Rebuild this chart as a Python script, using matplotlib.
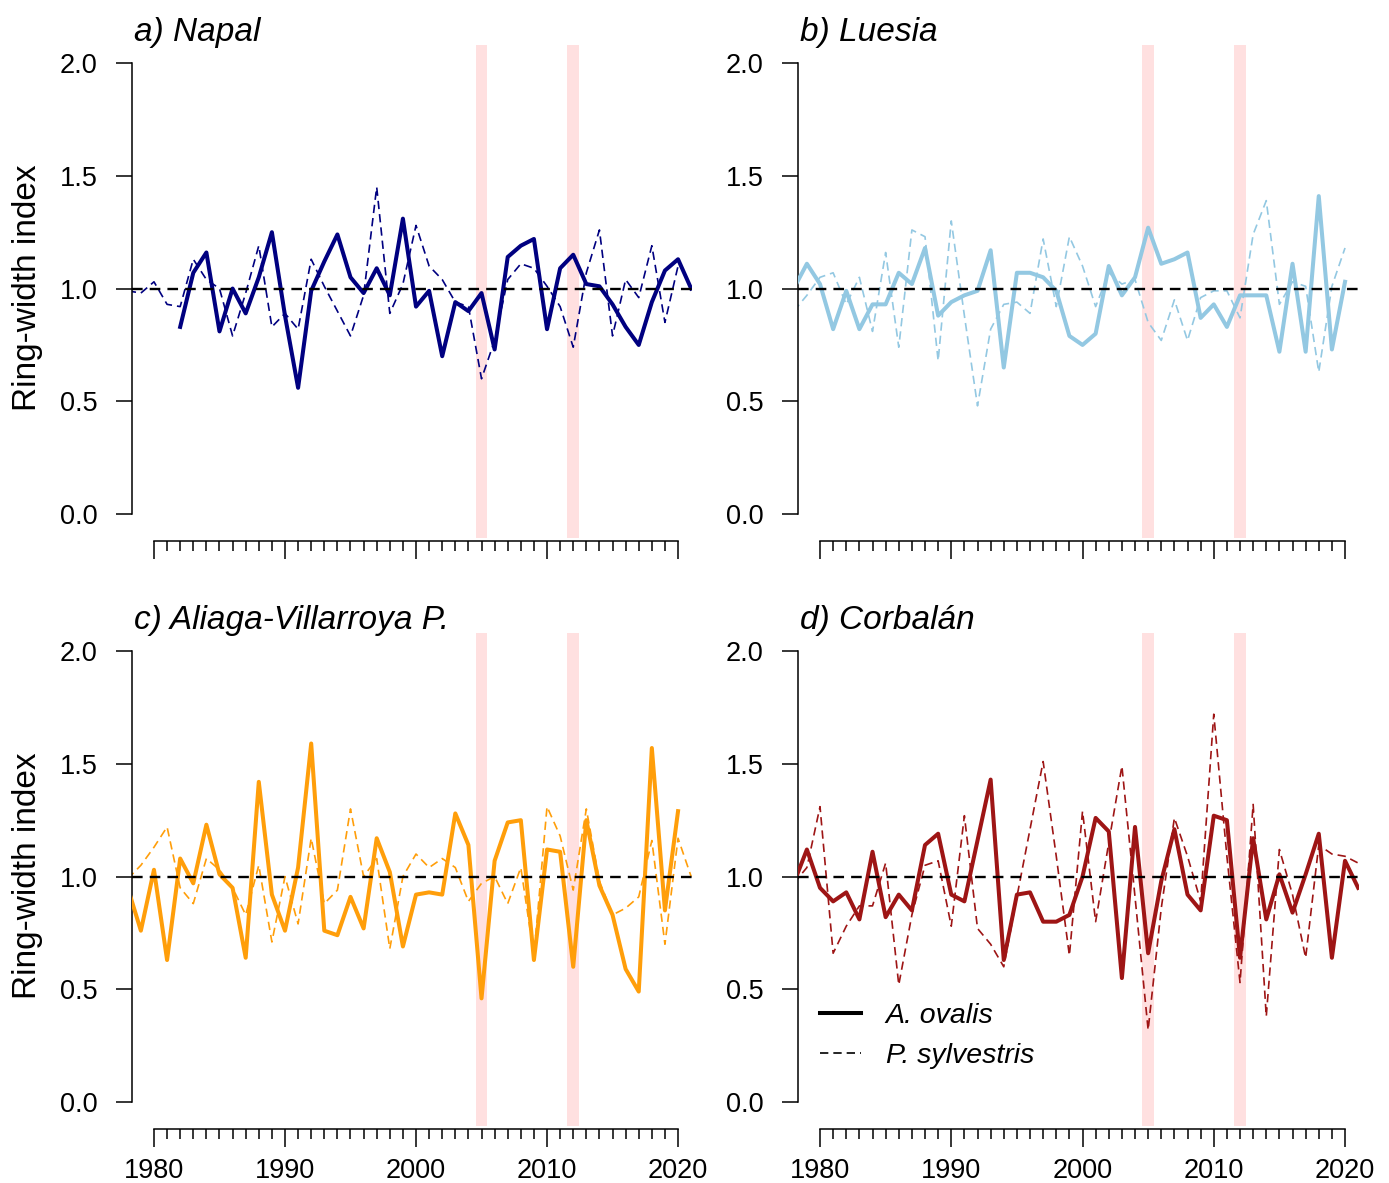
import numpy as np
import matplotlib
matplotlib.use("Agg")
import matplotlib.pyplot as plt
from matplotlib.lines import Line2D

plt.rcParams['font.family'] = ['Liberation Sans', 'DejaVu Sans']

# ring-width indices
napal_years_ao = np.arange(1982, 2022)
napal_ao = [0.83, 1.07, 1.16, 0.81, 1.00, 0.89, 1.05, 1.25, 0.88, 0.56,
            0.99, 1.12, 1.24, 1.05, 0.98, 1.09, 0.97, 1.31, 0.92, 0.99,
            0.70, 0.94, 0.90, 0.98, 0.73, 1.14, 1.19, 1.22, 0.82, 1.09,
            1.15, 1.02, 1.01, 0.93, 0.83, 0.75, 0.94, 1.08, 1.13, 1.00]
napal_years_ps = np.arange(1978, 2021)
napal_ps = [0.99, 0.98, 1.03, 0.93, 0.92, 1.13, 1.04, 1.00, 0.79, 0.98,
            1.19, 0.83, 0.89, 0.82, 1.13, 1.01, 0.90, 0.79, 0.97, 1.45,
            0.89, 1.02, 1.28, 1.10, 1.04, 0.94, 0.92, 0.60, 0.77, 1.04,
            1.11, 1.09, 1.01, 0.92, 0.74, 1.07, 1.26, 0.79, 1.04, 0.96,
            1.19, 0.85, 1.10]

luesia_years_ao = np.arange(1978, 2021)
luesia_ao = [1.00, 1.11, 1.02, 0.82, 0.99, 0.82, 0.93, 0.93, 1.07, 1.02,
             1.18, 0.88, 0.94, 0.97, 0.99, 1.17, 0.65, 1.07, 1.07, 1.05,
             0.99, 0.79, 0.75, 0.80, 1.10, 0.97, 1.05, 1.27, 1.11, 1.13,
             1.16, 0.87, 0.93, 0.83, 0.97, 0.97, 0.97, 0.72, 1.11, 0.72,
             1.41, 0.73, 1.03]
luesia_years_ps = np.arange(1978, 2021)
luesia_ps = [0.90, 0.97, 1.05, 1.07, 0.93, 1.05, 0.81, 1.16, 0.74, 1.26,
             1.23, 0.68, 1.30, 0.88, 0.48, 0.82, 0.93, 0.94, 0.89, 1.22,
             0.92, 1.23, 1.10, 0.92, 1.07, 1.02, 1.04, 0.85, 0.77, 0.95,
             0.77, 0.96, 0.99, 0.99, 0.87, 1.24, 1.39, 0.93, 1.03, 1.01,
             0.63, 1.01, 1.18]

aliaga_years_ao = np.arange(1978, 2021)
aliaga_ao = [0.95, 0.76, 1.03, 0.63, 1.08, 0.97, 1.23, 1.01, 0.95, 0.64,
             1.42, 0.92, 0.76, 1.04, 1.59, 0.76, 0.74, 0.91, 0.77, 1.17,
             1.02, 0.69, 0.92, 0.93, 0.92, 1.28, 1.14, 0.46, 1.07, 1.24,
             1.25, 0.63, 1.12, 1.11, 0.60, 1.25, 0.96, 0.83, 0.59, 0.49,
             1.57, 0.85, 1.29]
aliaga_years_ps = np.arange(1978, 2022)
aliaga_ps = [0.99, 1.05, 1.13, 1.22, 0.95, 0.88, 1.08, 1.03, 0.95, 0.83,
             1.05, 0.71, 1.00, 0.79, 1.17, 0.88, 0.94, 1.30, 1.00, 1.08,
             0.68, 1.00, 1.10, 1.04, 1.08, 1.04, 0.89, 0.97, 1.00, 0.88,
             1.04, 0.65, 1.31, 1.18, 0.94, 1.30, 0.98, 0.83, 0.86, 0.91,
             1.16, 0.70, 1.17, 1.00]

corbalan_years_ao = np.arange(1978, 2022)
corbalan_ao = [0.97, 1.12, 0.95, 0.89, 0.93, 0.81, 1.11, 0.82, 0.92, 0.85,
               1.14, 1.19, 0.92, 0.89, 1.16, 1.43, 0.63, 0.92, 0.93, 0.80,
               0.80, 0.83, 1.00, 1.26, 1.20, 0.55, 1.22, 0.66, 0.98, 1.21,
               0.92, 0.85, 1.27, 1.25, 0.64, 1.17, 0.81, 1.01, 0.84, 1.01,
               1.19, 0.64, 1.07, 0.95]
corbalan_years_ps = np.arange(1978, 2022)
corbalan_ps = [0.97, 1.04, 1.31, 0.66, 0.78, 0.87, 0.87, 1.06, 0.52, 0.83,
               1.05, 1.07, 0.78, 1.27, 0.77, 0.70, 0.60, 0.91, 1.21, 1.51,
               1.09, 0.65, 1.29, 0.80, 1.15, 1.49, 0.91, 0.32, 0.86, 1.26,
               1.09, 0.89, 1.72, 1.09, 0.53, 1.32, 0.38, 1.12, 0.92, 0.64,
               1.14, 1.10, 1.09, 1.06]

drought_years = [2005, 2012]
titles = ['a) Napal', 'b) Luesia', 'c) Aliaga-Villarroya P.', 'd) Corbalán']
colors = ['#000080', '#93C8E2', '#FF9E0A', '#9E1515']

W, H = 1389, 1183
fig = plt.figure(figsize=(W / 100, H / 100), dpi=100)


def panel(px_left, px_right, px_top, px_bottom, yrs_ao, ao, yrs_ps, ps, color, title, bottom_labels, ylabel):
    # axes placed in pixel units of the 1389x1183 figure
    ax = fig.add_axes([px_left / W, 1 - px_bottom / H, (px_right - px_left) / W, (px_bottom - px_top) / H])
    for yr in drought_years:
        ax.axvspan(yr - 0.45, yr + 0.45, color='#FFE0E0', lw=0, zorder=0)
    ax.plot(yrs_ps, ps, color=color, lw=1.2, ls=(0, (5, 3)), zorder=2)
    ax.plot(yrs_ao, ao, color=color, lw=2.9, zorder=3, solid_joinstyle='round')
    ax.axhline(1.0, color='black', lw=1.7, ls=(0, (4.5, 3)), zorder=4)
    ax.set_xlim(1978.3, 2021.05)
    ax.set_ylim(-0.106, 2.08)
    for s in ['top', 'right']:
        ax.spines[s].set_visible(False)
    ax.spines['left'].set_bounds(0, 2)
    ax.spines['bottom'].set_bounds(1980, 2020)
    ax.spines['bottom'].set_position(('outward', 2))
    for s in ['left', 'bottom']:
        ax.spines[s].set_linewidth(1.1)
    ax.set_yticks([0, 0.5, 1.0, 1.5, 2.0])
    ax.set_yticklabels(['0.0', '0.5', '1.0', '1.5', '2.0'])
    ax.set_xticks([1980, 1990, 2000, 2010, 2020])
    ax.set_xticks(np.arange(1980, 2021), minor=True)
    ax.tick_params(axis='y', length=11.5, width=1.1, pad=13, labelsize=19.5)
    ax.tick_params(axis='x', which='major', length=13, width=1.1, pad=8, labelsize=19.5,
                   labelbottom=bottom_labels)
    ax.tick_params(axis='x', which='minor', length=7.5, width=1.1)
    fig.text((px_left + 2) / W, 1 - (px_top - 4) / H, title, fontsize=24, style='italic',
             ha='left', va='baseline')
    if ylabel:
        fig.text(28 / W, 1 - (px_top + 243) / H, 'Ring-width index', fontsize=24,
                 rotation=90, ha='center', va='center')
    return ax


left_a, right_a = 131.7, 691.8
left_b, right_b = 797.7, 1358.8
top_1, bot_1 = 45, 538
top_2, bot_2 = 633, 1126

panel(left_a, right_a, top_1, bot_1, napal_years_ao, napal_ao, napal_years_ps, napal_ps,
      colors[0], titles[0], False, True)
panel(left_b, right_b, top_1, bot_1, luesia_years_ao, luesia_ao, luesia_years_ps, luesia_ps,
      colors[1], titles[1], False, False)
panel(left_a, right_a, top_2, bot_2, aliaga_years_ao, aliaga_ao, aliaga_years_ps, aliaga_ps,
      colors[2], titles[2], True, True)
axd = panel(left_b, right_b, top_2, bot_2, corbalan_years_ao, corbalan_ao, corbalan_years_ps, corbalan_ps,
            colors[3], titles[3], True, False)

handles = [Line2D([], [], color='black', lw=2.9),
           Line2D([], [], color='black', lw=1.2, ls=(0, (5, 3)))]
axd.legend(handles, ['A. ovalis', 'P. sylvestris'], loc='upper left',
           bbox_to_anchor=(0.04, 0.25), frameon=False, prop={'style': 'italic', 'size': 20.5},
           handlelength=1.45, handletextpad=0.85, labelspacing=0.5, borderpad=0, borderaxespad=0)

fig.savefig('out.png', dpi=100)
